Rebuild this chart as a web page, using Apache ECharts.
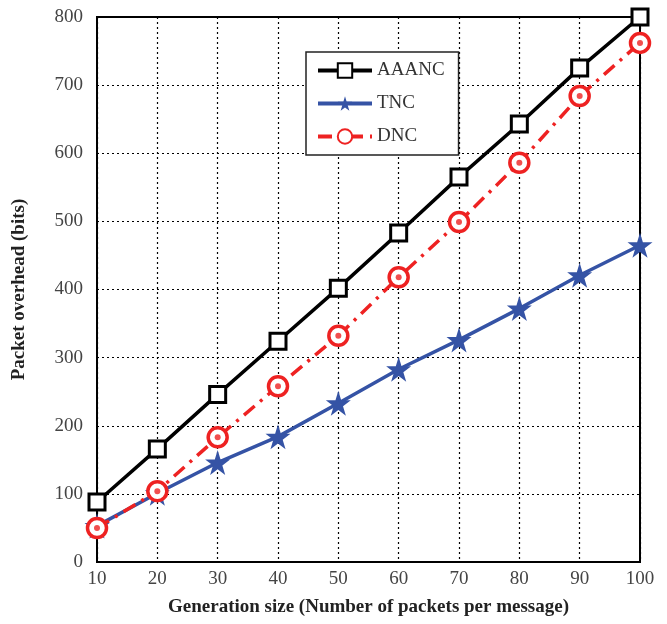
<!DOCTYPE html>
<html>
<head>
<meta charset="utf-8">
<script src="https://cdn.jsdelivr.net/npm/echarts@6/dist/echarts.min.js"></script>
<style>html,body{margin:0;padding:0;background:#fff}#main{width:667px;height:624px}</style>
</head>
<body>
<div id="main"></div>
<script>
// generation sizes
var categories = [10, 20, 30, 40, 50, 60, 70, 80, 90, 100];
// packet overhead (bits)
var aaanc = [88, 166, 246, 324, 402, 483, 565, 643, 725, 800];
var tnc = [53, 101, 146, 184, 233, 283, 326, 372, 421, 465];
var dnc = [50, 104, 183, 258, 332, 418, 499, 586, 684, 762];

var font = 'Liberation Serif';
var myChart = echarts.init(document.getElementById('main'));

var pairs = function(arr){
	var out = [];
	for (var i = 0; i < arr.length; i++) out.push([categories[i], arr[i]]);
	return out;
};

var option = {
	animation: false,
	textStyle: { fontFamily: font },
	grid: { left: 97, right: 27, top: 17, bottom: 62, show: true, borderColor: '#000', borderWidth: 2 },
	legend: {
		left: 306, top: 52,
		orient: 'vertical',
		itemWidth: 54, itemHeight: 18, itemGap: 14,
		padding: [9, 14, 9, 10],
		backgroundColor: '#fff',
		borderColor: '#222', borderWidth: 1.5,
		textStyle: { fontFamily: font, fontSize: 19, color: '#333' },
		lineStyle: { width: 4 },
		data: ['AAANC', 'TNC', 'DNC']
	},
	xAxis: {
		type: 'value', min: 10, max: 100, interval: 10,
		name: 'Generation size (Number of packets per message)',
		nameLocation: 'middle', nameGap: 36,
		nameTextStyle: { fontFamily: font, fontSize: 19, fontWeight: 'bold', color: '#222' },
		axisLine: { lineStyle: { color: '#000', width: 2 } },
		axisTick: { show: false },
		axisLabel: { fontFamily: font, fontSize: 19, color: '#444', margin: 8 },
		splitLine: { lineStyle: { color: '#000', type: [2, 3], width: 1.2 } }
	},
	yAxis: {
		type: 'value', min: 0, max: 800, interval: 100,
		name: 'Packet overhead (bits)',
		nameLocation: 'middle', nameGap: 68,
		nameTextStyle: { fontFamily: font, fontSize: 19, fontWeight: 'bold', color: '#222' },
		axisLine: { show: true, lineStyle: { color: '#000', width: 2 } },
		axisTick: { show: false },
		axisLabel: { fontFamily: font, fontSize: 19, color: '#444', margin: 14 },
		splitLine: { lineStyle: { color: '#000', type: [2, 3], width: 1.2 } }
	},
	series: [
		{
			name: 'AAANC', type: 'line', data: pairs(aaanc),
			symbol: 'rect', symbolSize: 16,
			itemStyle: { color: '#fff', borderColor: '#000', borderWidth: 3 },
			lineStyle: { color: '#000', width: 3.5 }
		},
		{
			name: 'TNC', type: 'line', data: pairs(tnc),
			symbol: 'path://M50,0 L61,35 L98,35 L68,57 L79,92 L50,71 L21,92 L32,57 L2,35 L39,35 Z',
			symbolSize: 25,
			itemStyle: { color: '#3553a5', borderWidth: 0 },
			lineStyle: { color: '#3553a5', width: 3.5 }
		},
		{
			name: 'DNC', type: 'line', data: pairs(dnc),
			symbol: 'circle', symbolSize: 19,
			itemStyle: { color: '#fff', borderColor: '#ee2222', borderWidth: 3.5 },
			lineStyle: { color: '#ee2222', width: 3.5, type: [14, 7, 3, 7] },
			z: 3
		},
		{
			name: 'DNCdot', type: 'scatter', data: pairs(dnc),
			symbol: 'circle', symbolSize: 6,
			itemStyle: { color: '#ee2222' },
			z: 4, silent: true
		}
	]
};
myChart.setOption(option);
</script>
</body>
</html>
